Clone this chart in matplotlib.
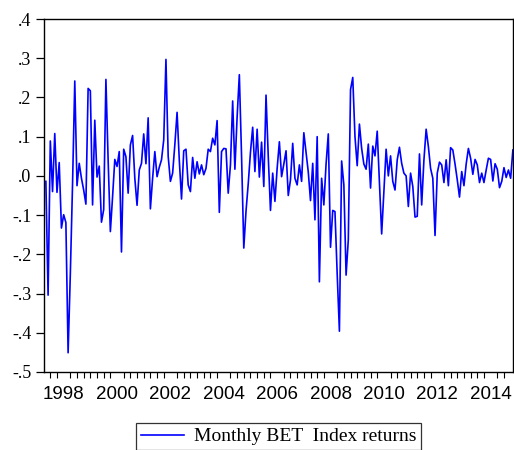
import numpy as np
import matplotlib
matplotlib.use("Agg")
import matplotlib.pyplot as plt
from matplotlib.ticker import FixedLocator, FuncFormatter

# monthly BET index returns, Nov 1997 onwards
returns = [
    -0.014, -0.304, 0.089, -0.040, 0.108, -0.042, 0.034, -0.133, -0.099, -0.119,
    -0.451, -0.250, -0.020, 0.242, -0.025, 0.032, -0.006, -0.036, -0.072, 0.223,
    0.217, -0.074, 0.142, -0.003, 0.025, -0.118, -0.086, 0.246, 0.040, -0.142,
    -0.053, 0.042, 0.024, 0.062, -0.194, 0.068, 0.049, -0.044, 0.079, 0.103,
    -0.006, -0.075, 0.015, 0.032, 0.107, 0.031, 0.148, -0.084, -0.006, 0.062,
    -0.002, 0.022, 0.041, 0.092, 0.297, 0.050, -0.014, 0.007, 0.080, 0.162,
    0.040, -0.059, 0.064, 0.068, -0.023, -0.040, 0.047, -0.006, 0.036, 0.005,
    0.028, 0.003, 0.019, 0.068, 0.062, 0.096, 0.079, 0.141, -0.093, 0.062,
    0.070, 0.069, -0.044, 0.028, 0.191, 0.017, 0.150, 0.258, 0.050, -0.184,
    -0.090, -0.020, 0.060, 0.124, 0.011, 0.119, -0.003, 0.086, -0.027, 0.206,
    0.050, -0.088, 0.007, -0.065, 0.019, 0.087, -0.002, 0.030, 0.064, -0.050,
    -0.010, 0.083, -0.006, -0.023, 0.028, -0.014, 0.110, 0.060, 0.010, -0.063,
    0.032, -0.112, 0.100, -0.270, -0.006, -0.074, 0.030, 0.107, -0.182, -0.088,
    -0.091, -0.250, -0.396, 0.038, -0.023, -0.253, -0.163, 0.220, 0.251, 0.100,
    0.026, 0.132, 0.070, 0.030, 0.017, 0.081, -0.031, 0.076, 0.051, 0.114,
    -0.020, -0.148, -0.040, 0.068, 0.000, 0.051, -0.014, -0.036, 0.041, 0.073,
    0.032, 0.007, 0.000, -0.078, 0.007, -0.027, -0.105, -0.103, 0.056, -0.074,
    0.040, 0.119, 0.075, 0.019, -0.006, -0.152, 0.007, 0.035, 0.028, -0.017,
    0.041, -0.025, 0.072, 0.066, 0.030, -0.010, -0.054, 0.011, -0.025, 0.030,
    0.070, 0.045, 0.004, 0.042, 0.028, -0.017, 0.007, -0.017, 0.015, 0.045,
    0.042, -0.013, 0.031, 0.017, -0.030, -0.014, 0.021, -0.004, 0.015, -0.006,
    0.066,
]
start_year = 1997
start_month = 11
year_labels = [1998, 2000, 2002, 2004, 2006, 2008, 2010, 2012, 2014]
y_ticks = [-0.5, -0.4, -0.3, -0.2, -0.1, 0.0, 0.1, 0.2, 0.3, 0.4]
series_name = "Monthly BET  Index returns"

# time axis in fractional years
t = start_year + (start_month - 1) / 12 + np.arange(len(returns)) / 12

fig = plt.figure(figsize=(5.14, 4.5), dpi=100)
ax = fig.add_axes([44 / 514, 78 / 450, 469 / 514, 353 / 450])

line, = ax.plot(t, returns, color="#0000ff", lw=1.2)

ax.set_xlim(t[0] - 0.07, t[-1] + 0.005)
ax.set_ylim(-0.5, 0.4)

# y axis: EViews-style ".4", "-.1"
def fmt_y(v, pos):
    s = "%.1f" % v
    if s == "-0.0":
        s = "0.0"
    return s.replace("0.", ".")

ax.yaxis.set_major_locator(FixedLocator(y_ticks))
ax.yaxis.set_major_formatter(FuncFormatter(fmt_y))
ax.tick_params(axis="y", direction="out", length=6, width=0.9, pad=3,
               labelsize=13, labelfontfamily="Liberation Serif")

# x axis: labels centred in the year, quarterly ticks
quarters = np.arange(1998, 2015.01, 0.25)
ax.xaxis.set_major_locator(FixedLocator([y + 0.5 for y in year_labels]))
ax.set_xticklabels([str(y) for y in year_labels])
ax.xaxis.set_minor_locator(FixedLocator(quarters))
ax.tick_params(axis="x", which="major", length=0, pad=10,
               labelsize=13.5, labelfontfamily="Liberation Sans")
ax.tick_params(axis="x", which="minor", direction="out", length=4, width=0.8)

for s in ax.spines.values():
    s.set_linewidth(1.0)

fig.legend([line], [series_name], loc="upper center",
           bbox_to_anchor=(278.5 / 514, 1 - 423 / 450),
           frameon=True, fancybox=False, edgecolor="black",
           prop={"family": "Liberation Serif", "size": 14},
           handlelength=2.2, borderpad=0.25, handletextpad=0.5,
           borderaxespad=0)
fig.legends[0].get_frame().set_linewidth(0.9)

fig.savefig("out.png", dpi=100)
